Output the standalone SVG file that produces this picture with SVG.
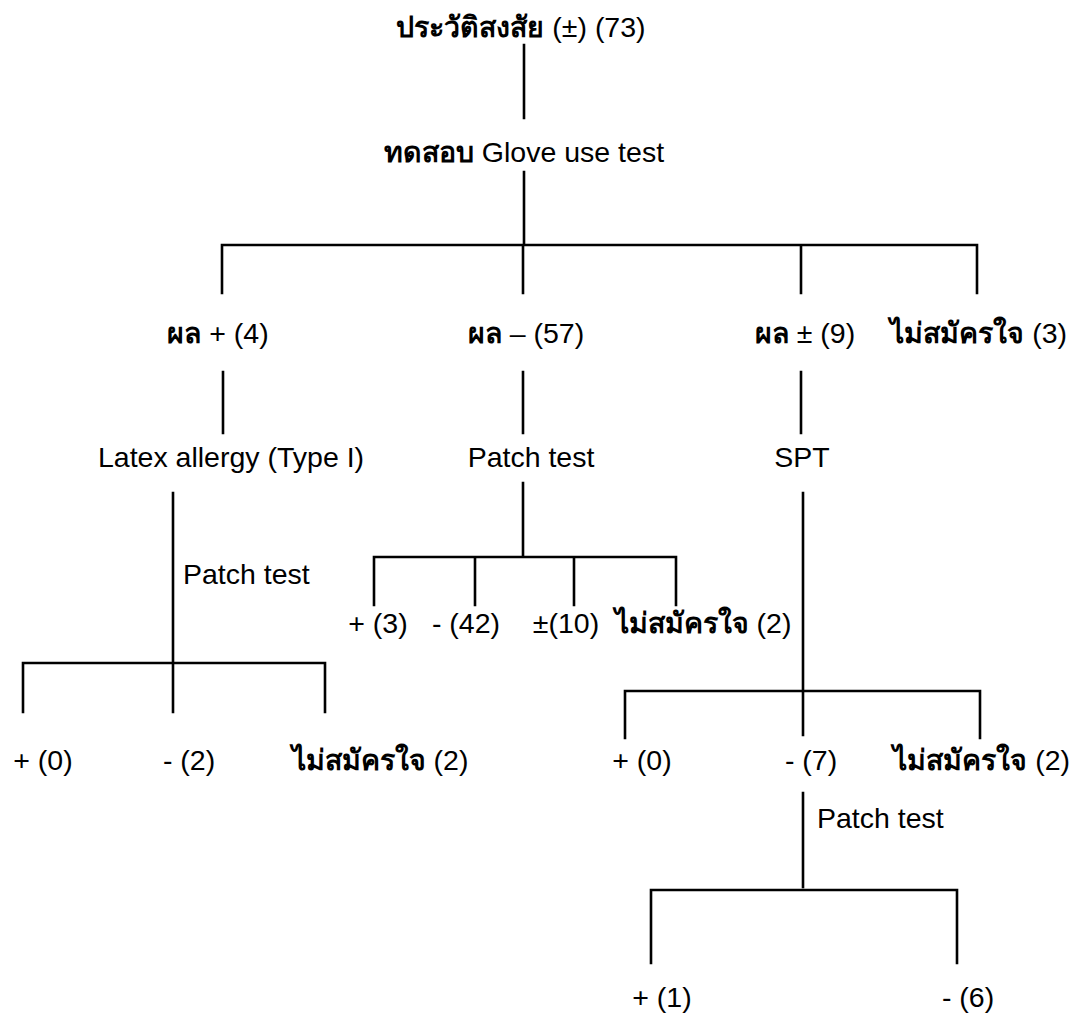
<svg xmlns="http://www.w3.org/2000/svg" width="1076" height="1015" viewBox="0 0 1076 1015">
<style>
.t{font-family:"Liberation Sans","Noto Sans",Arial,sans-serif;font-size:28.5px;fill:#000;text-anchor:middle}
.s{text-anchor:start}
.e{text-anchor:end}
.th{font-weight:bold}
.c{fill:none;stroke:#000;stroke-width:2.6;stroke-linecap:square}
</style>
<rect width="1076" height="1015" fill="#fff"/>
<g id="connectors" class="c">
<path d="M524 45V118M524 172V245M222 245H977M222 245V293M523 245V293M801 245V293M977 245V293"/>
<path d="M223 372V433M523 372V433M801 372V433"/>
<path d="M173 493V712M23 663H325M23 663V712M325 663V712"/>
<path d="M523 483V557M374 557H676M374 557V605M475 557V605M574 557V605M676 557V605"/>
<path d="M803 493V735M625 691H980M625 691V738M980 691V738"/>
<path d="M803 793V887M651 890H957M651 890V963M957 890V963"/>
</g>
<g id="n_root"><text class="t" x="521" y="37"><tspan class="th">ประวัติสงสัย</tspan> (±) (73)</text></g>
<g id="n_glove"><text class="t" x="524" y="162"><tspan class="th">ทดสอบ</tspan> Glove use test</text></g>
<g id="n_pos"><text class="t" x="218" y="343"><tspan class="th">ผล</tspan> + (4)</text></g>
<g id="n_neg"><text class="t" x="526" y="343"><tspan class="th">ผล</tspan> – (57)</text></g>
<g id="n_pm"><text class="t" x="805" y="343"><tspan class="th">ผล</tspan> ± (9)</text></g>
<g id="n_refuse"><text class="t e" x="1067" y="343"><tspan class="th">ไม่สมัครใจ</tspan> (3)</text></g>
<g id="n_latex"><text class="t" x="231" y="467">Latex allergy (Type I)</text></g>
<g id="n_patch"><text class="t" x="531" y="467">Patch test</text></g>
<g id="n_spt"><text class="t" x="802" y="467">SPT</text></g>
<g id="lbl_patch_left"><text class="t s" x="183" y="584">Patch test</text></g>
<g id="n_l_pos"><text class="t" x="43" y="770">+ (0)</text></g>
<g id="n_l_neg"><text class="t" x="189" y="770">- (2)</text></g>
<g id="n_l_ref"><text class="t" x="380" y="770"><tspan class="th">ไม่สมัครใจ</tspan> (2)</text></g>
<g id="n_m_pos"><text class="t" x="378" y="633">+ (3)</text></g>
<g id="n_m_neg"><text class="t" x="466" y="633">- (42)</text></g>
<g id="n_m_pm"><text class="t" x="566" y="633">±(10)</text></g>
<g id="n_m_ref"><text class="t" x="703" y="633"><tspan class="th">ไม่สมัครใจ</tspan> (2)</text></g>
<g id="n_r_pos"><text class="t" x="642" y="770">+ (0)</text></g>
<g id="n_r_neg"><text class="t" x="811" y="770">- (7)</text></g>
<g id="n_r_ref"><text class="t e" x="1070" y="770"><tspan class="th">ไม่สมัครใจ</tspan> (2)</text></g>
<g id="lbl_patch_right"><text class="t s" x="817" y="828">Patch test</text></g>
<g id="n_b_pos"><text class="t" x="662" y="1007">+ (1)</text></g>
<g id="n_b_neg"><text class="t" x="968" y="1007">- (6)</text></g>
</svg>
